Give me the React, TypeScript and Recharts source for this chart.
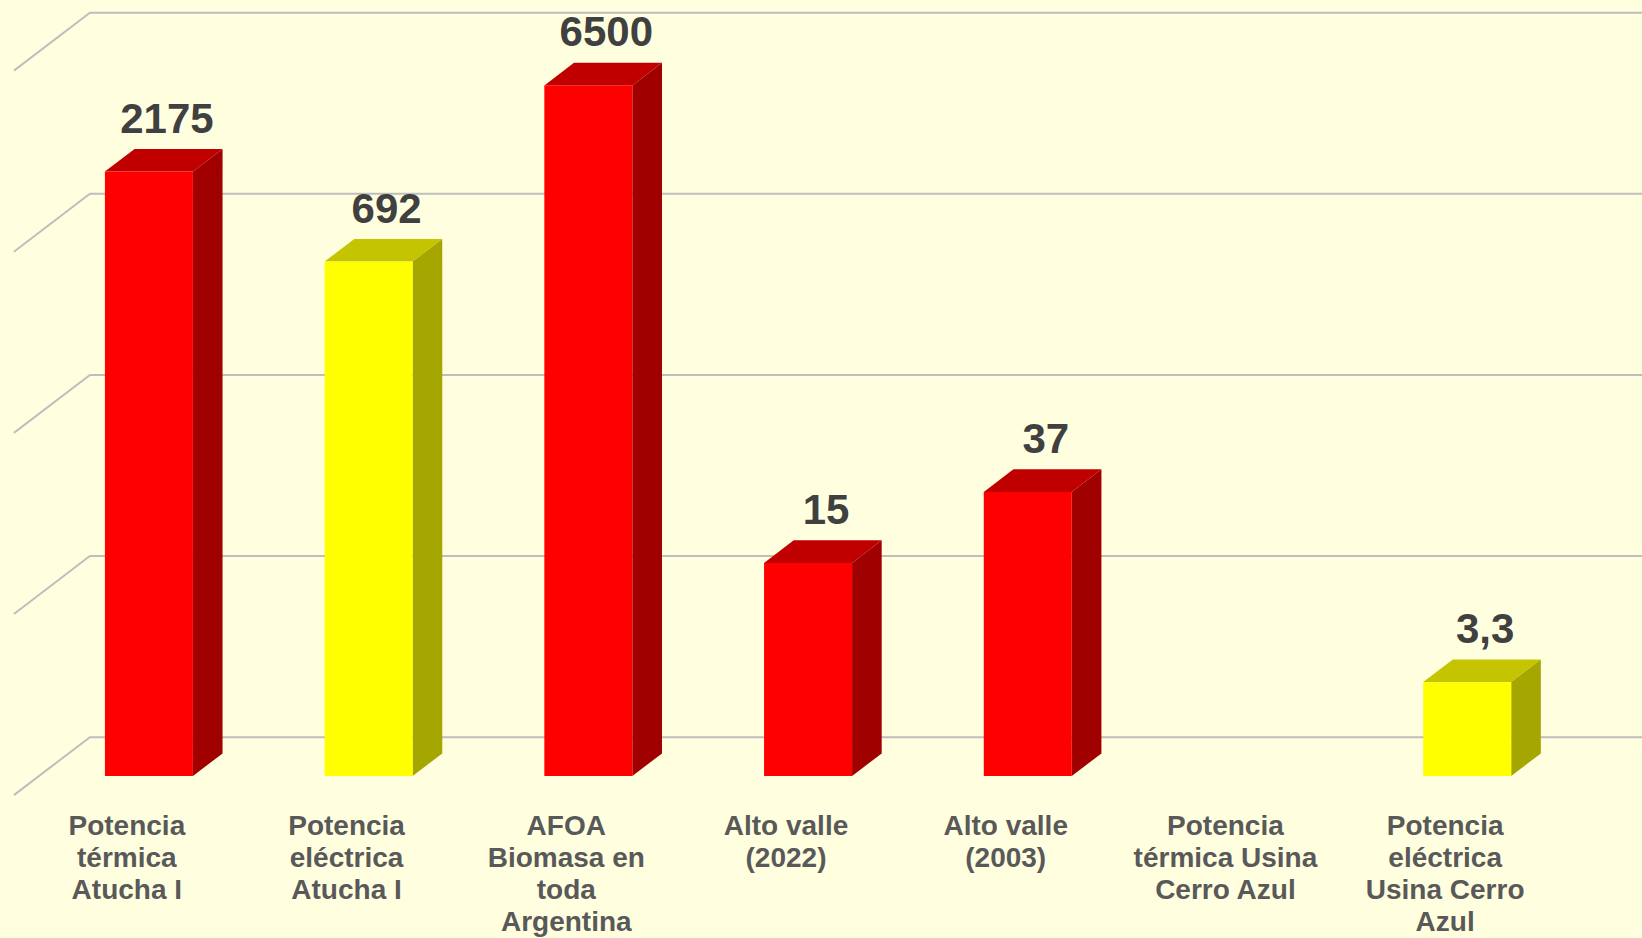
import React from 'react';
import { BarChart, Bar, XAxis, YAxis, CartesianGrid, LabelList } from 'recharts';

const categories = [
  'Potencia\ntérmica\nAtucha I',
  'Potencia\neléctrica\nAtucha I',
  'AFOA\nBiomasa en\ntoda\nArgentina',
  'Alto valle\n(2022)',
  'Alto valle\n(2003)',
  'Potencia\ntérmica Usina\nCerro Azul',
  'Potencia\neléctrica\nUsina Cerro\nAzul',
];
const values: (number | null)[] = [2175, 692, 6500, 15, 37, null, 3.3];
const colorKeys = ['red', 'yellow', 'red', 'red', 'red', 'red', 'yellow'];
const yTicks = [1, 10, 100, 1000, 10000];

const data = categories.map((name, i) => ({ name, value: values[i], colorKey: colorKeys[i] }));

const PALETTE: Record<string, { front: string; top: string; side: string }> = {
  red: { front: '#FF0000', top: '#C00000', side: '#A00000' },
  yellow: { front: '#FFFF00', top: '#C4C400', side: '#A6A600' },
};

const W = 1642;
const H = 938;
const DEPTH_DX = 76;
const DEPTH_DY = 58;
const BAR_FRAC = 0.33;
const BAR_DEPTH = 0.39;
const FONT = '"Liberation Sans", Arial, sans-serif';

const gridLine = (p: any) => {
  const { x1, y1 } = p;
  const fx = x1 - DEPTH_DX * BAR_FRAC;
  const fy = y1 + DEPTH_DY * BAR_FRAC;
  const bx = x1 + DEPTH_DX * (1 - BAR_FRAC);
  const by = y1 - DEPTH_DY * (1 - BAR_FRAC);
  return (
    <path
      key={`g-${y1}`}
      d={`M${fx},${fy}L${bx},${by}L${W},${by}`}
      fill="none"
      stroke="#BEBEBE"
      strokeWidth={2}
    />
  );
};

const gridCoords = (props: any) => {
  const { yAxis, offset } = props || {};
  if (yAxis && typeof yAxis.scale === 'function') {
    return yTicks.map((t) => yAxis.scale(t));
  }
  const lo = Math.log10(yTicks[0]);
  const hi = Math.log10(yTicks[yTicks.length - 1]);
  return yTicks.map(
    (t) => offset.top + offset.height * (1 - (Math.log10(t) - lo) / (hi - lo))
  );
};

const Bar3D = (p: any) => {
  const { x, y, width, height, payload } = p;
  if (height == null || !isFinite(y) || !isFinite(height) || height <= 0) return null;
  const c = PALETTE[payload.colorKey];
  const dx = DEPTH_DX * BAR_DEPTH;
  const dy = DEPTH_DY * BAR_DEPTH;
  return (
    <g>
      <polygon
        points={`${x},${y} ${x + dx},${y - dy} ${x + width + dx},${y - dy} ${x + width},${y}`}
        fill={c.top}
      />
      <polygon
        points={`${x + width},${y} ${x + width + dx},${y - dy} ${x + width + dx},${y + height - dy} ${x + width},${y + height}`}
        fill={c.side}
      />
      <rect x={x} y={y} width={width} height={height} fill={c.front} />
    </g>
  );
};

const ValueLabel = (p: any) => {
  const { x, y, width, value } = p;
  if (value == null) return null;
  return (
    <text
      x={x + width / 2 + 18}
      y={y - 39}
      textAnchor="middle"
      fontFamily={FONT}
      fontSize={42}
      fontWeight="bold"
      fill="#404040"
    >
      {String(value).replace('.', ',')}
    </text>
  );
};

const CategoryTick = (p: any) => {
  const { x, y, payload } = p;
  const lines = String(payload.value).split('\n');
  const cx = x - 22;
  return (
    <text
      x={cx}
      y={y + 59}
      textAnchor="middle"
      fontFamily={FONT}
      fontSize={28}
      fontWeight="bold"
      fill="#595959"
    >
      {lines.map((l, i) => (
        <tspan key={i} x={cx} dy={i === 0 ? 0 : 32}>
          {l}
        </tspan>
      ))}
    </text>
  );
};

export default function App() {
  return (
    <div
      style={{
        position: 'fixed',
        left: 0,
        top: 0,
        width: W,
        height: H,
        background: '#FFFFE0',
        overflow: 'hidden',
      }}
    >
      <BarChart
        width={W}
        height={H}
        data={data}
        margin={{ top: 51.5, right: 65, left: 39, bottom: 0 }}
        barCategoryGap="30%"
      >
        <CartesianGrid
          vertical={false}
          horizontal={gridLine}
          horizontalCoordinatesGenerator={gridCoords}
        />
        <XAxis
          dataKey="name"
          axisLine={false}
          tickLine={false}
          tickSize={0}
          tickMargin={0}
          height={162}
          interval={0}
          tick={<CategoryTick />}
        />
        <YAxis
          scale="log"
          domain={[1, 10000]}
          ticks={yTicks}
          allowDataOverflow
          width={0}
          tick={false}
          axisLine={false}
          tickLine={false}
        />
        <Bar dataKey="value" shape={Bar3D} isAnimationActive={false}>
          <LabelList dataKey="value" content={ValueLabel} />
        </Bar>
      </BarChart>
    </div>
  );
}
